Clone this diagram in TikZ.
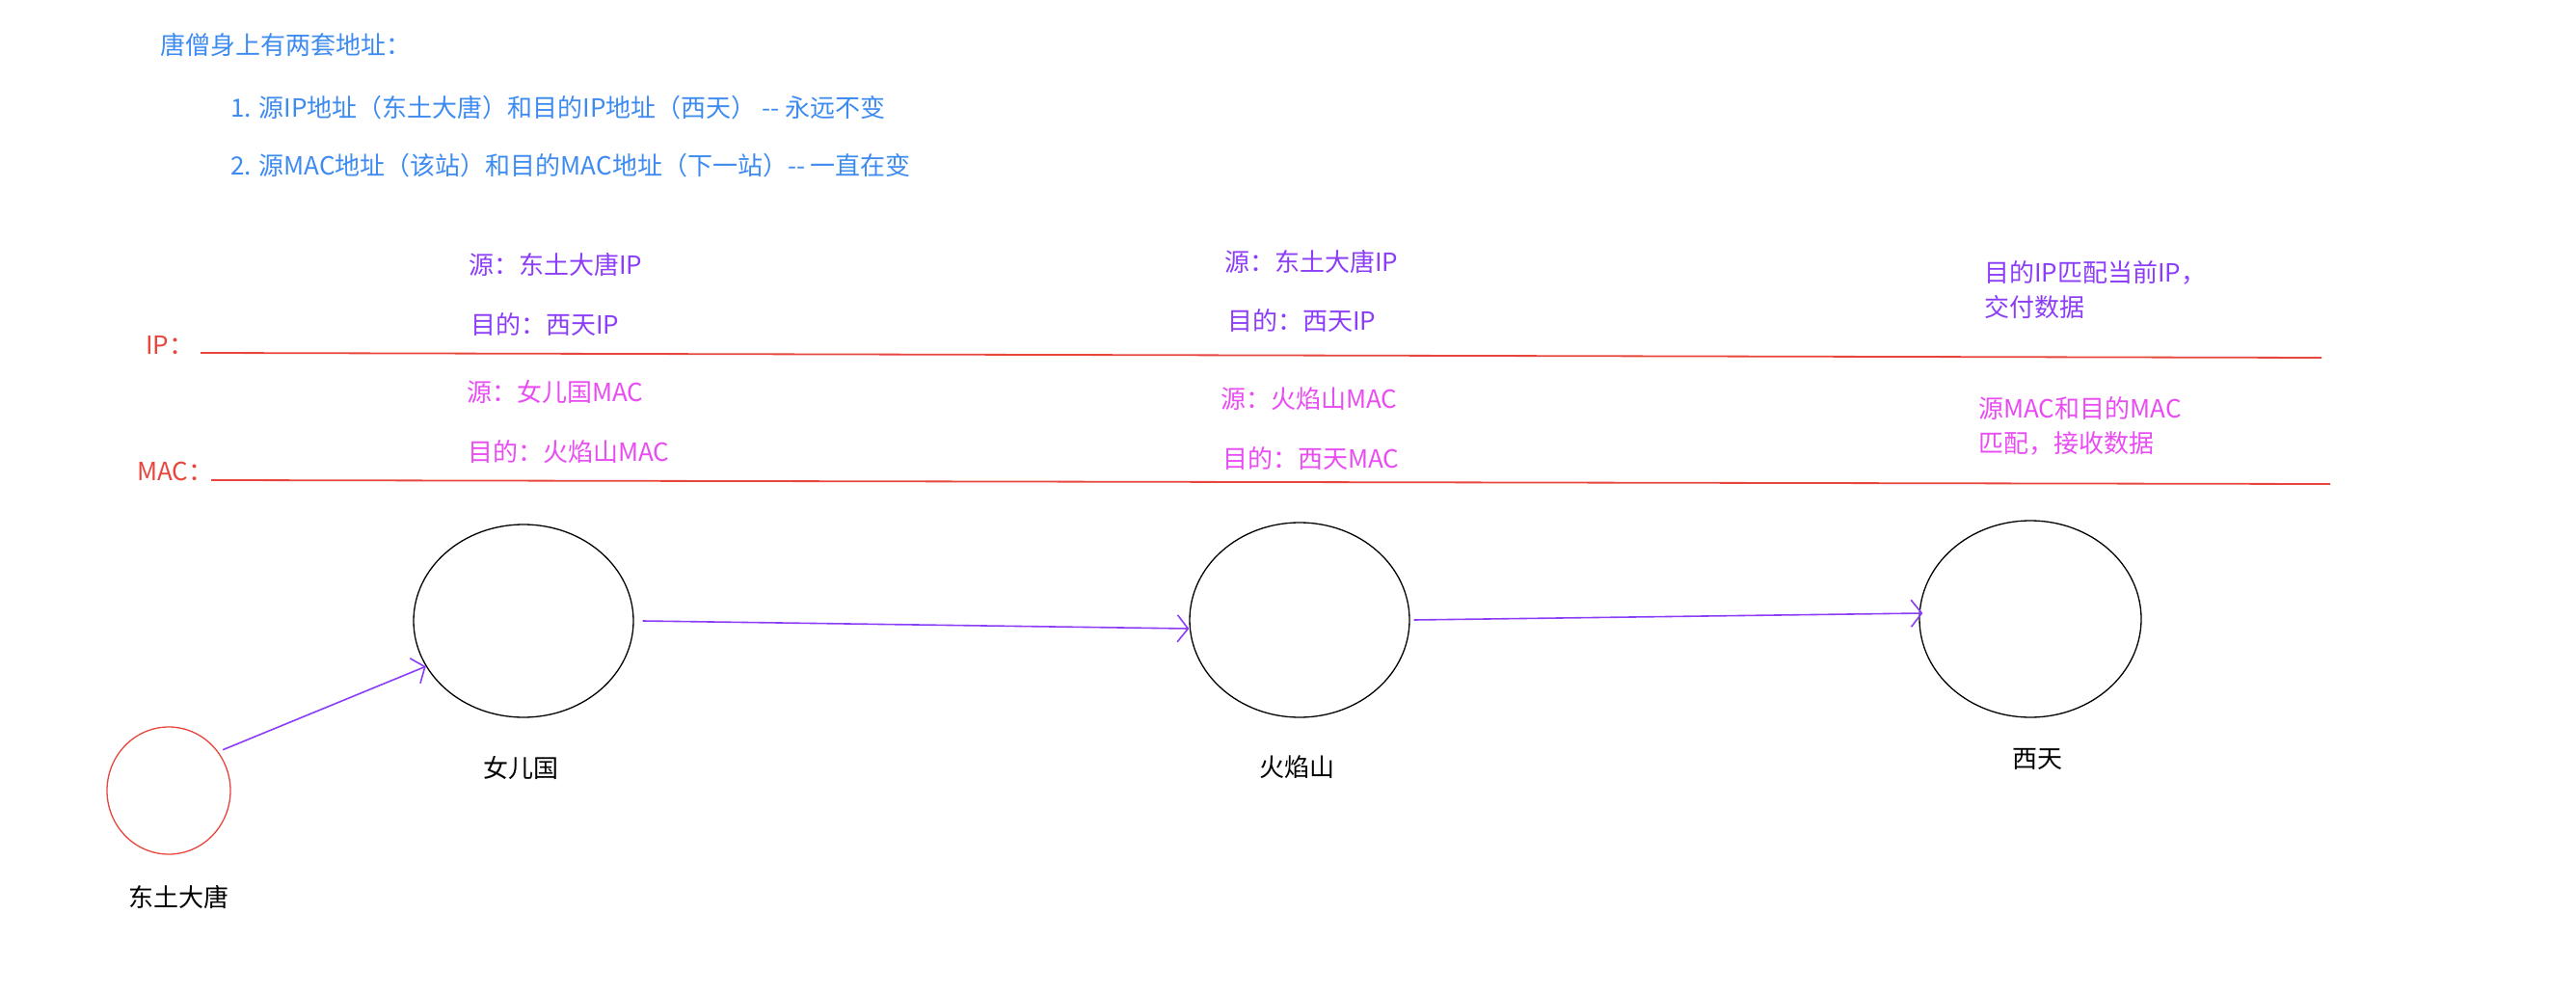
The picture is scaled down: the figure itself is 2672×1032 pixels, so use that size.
\documentclass[tikz,border=0pt]{standalone}
\usepackage{fontspec}
\setmainfont{Noto Sans CJK SC}
\usetikzlibrary{shapes.geometric,arrows.meta}
\definecolor{tblue}{RGB}{61,139,240}
\definecolor{tpurple}{RGB}{139,61,247}
\definecolor{tmag}{RGB}{232,76,242}
\definecolor{tred}{RGB}{232,69,60}
\begin{document}
\begin{tikzpicture}[x=1pt,y=-1pt,
  txt/.style={anchor=west,inner sep=0pt,font=\fontsize{26}{36}\selectfont,align=left},
  bluetxt/.style={txt,text=tblue},
  iptxt/.style={txt,text=tpurple},
  mactxt/.style={txt,text=tmag},
  redtxt/.style={txt,text=tred},
  lbl/.style={inner sep=0pt,font=\fontsize{26}{36}\selectfont,text=black},
  station/.style={ellipse,draw=black,line width=1.3pt,inner sep=0pt},
  layer/.style={draw=tred,line width=1.8pt},
  arr/.style={draw=tpurple,line width=1.6pt,-{Straight Barb[length=11pt,width=28pt]}}]
\useasboundingbox (0,0) rectangle (2672,1032);
% header
\node[bluetxt] (title) at (166,47) {唐僧身上有两套地址：};
\node[bluetxt] (l1) at (239,112) {1. 源IP地址（东土大唐）和目的IP地址（西天） -{}- 永远不变};
\node[bluetxt] (l2) at (239,172) {2. 源MAC地址（该站）和目的MAC地址（下一站）-{}- 一直在变};
% layer labels and lines
\node[redtxt] (iplbl) at (151,358) {IP：};
\node[redtxt] (maclbl) at (142,489) {MAC：};
\coordinate (ipL) at (208,366);
\coordinate (ipR) at (2408,371);
\coordinate (macL) at (219,498);
\coordinate (macR) at (2417,502);
\draw[layer] (ipL) -- (ipR);
\draw[layer] (macL) -- (macR);
% column 1
\node[iptxt] (p1a) at (486,275) {源：东土大唐IP};
\node[iptxt] (p1b) at (488,337) {目的：西天IP};
\node[mactxt] (m1a) at (484,407) {源：女儿国MAC};
\node[mactxt] (m1b) at (485,469) {目的：火焰山MAC};
% column 2
\node[iptxt] (p2a) at (1270,272) {源：东土大唐IP};
\node[iptxt] (p2b) at (1273,333) {目的：西天IP};
\node[mactxt] (m2a) at (1266,414) {源：火焰山MAC};
\node[mactxt] (m2b) at (1268,476) {目的：西天MAC};
% column 3
\node[iptxt] (p3) at (2058,301) {目的IP匹配当前IP，\\交付数据};
\node[mactxt] (m3) at (2052,442) {源MAC和目的MAC\\匹配，接收数据};
% stations
\node[station,draw=tred,minimum width=128pt,minimum height=132pt] (dt) at (175,820) {};
\node[station,minimum width=228pt,minimum height=200pt] (ne) at (543,644) {};
\node[station,minimum width=228pt,minimum height=202pt] (hy) at (1348,643) {};
\node[station,minimum width=230pt,minimum height=204pt] (xt) at (2106,642) {};
\node[lbl] (dtl) at (185,930) {东土大唐};
\node[lbl] (nel) at (540,797) {女儿国};
\node[lbl] (hyl) at (1345,796) {火焰山};
\node[lbl] (xtl) at (2113,787) {西天};
% connectors
\draw[arr] ([shift={(4,-3)}]dt.37) -- (ne.205);
\draw[arr] ([xshift=9pt]ne.east) -- ([yshift=-9pt]hy.west);
\draw[arr] ([xshift=4pt]hy.east) -- ([shift={(4,-6)}]xt.west);
\end{tikzpicture}
\end{document}
